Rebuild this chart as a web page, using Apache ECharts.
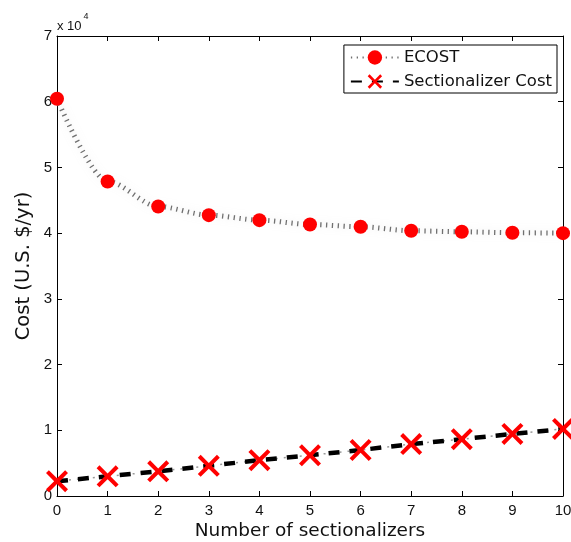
<!DOCTYPE html>
<html>
<head>
<meta charset="utf-8">
<script src="https://cdn.jsdelivr.net/npm/echarts@6/dist/echarts.min.js"></script>
<style>
  html, body { margin: 0; padding: 0; background: #fff; }
  #chart { width: 571px; height: 542px; }
</style>
</head>
<body>
<div id="chart"></div>
<script>
// Number of sectionalizers on the feeder
const sectionalizers = [0, 1, 2, 3, 4, 5, 6, 7, 8, 9, 10];
// Expected cost of energy not supplied (U.S. $/yr)
const ecost = [60450, 47870, 44060, 42740, 41980, 41320, 40970, 40360, 40210, 40060, 40000];
// Annualised sectionalizer cost (U.S. $/yr)
const sectionalizerCost = [2250, 3000, 3750, 4600, 5450, 6200, 7000, 7900, 8650, 9450, 10200];
// Y tick labels are shown in units of 10^4
const yTickLabels = ['0', '1', '2', '3', '4', '5', '6', '7'];
const xTickLabels = ['0', '1', '2', '3', '4', '5', '6', '7', '8', '9', '10'];

const tickFont = 'Liberation Sans, Arial, sans-serif';
const titleFont = 'DejaVu Sans, sans-serif';
const crossPath = 'path://M0,13L13,0L50,37L87,0L100,13L63,50L100,87L87,100L50,63L13,100L0,87L37,50Z';

const pairs = arr => sectionalizers.map((x, i) => [x, arr[i]]);

const chart = echarts.init(document.getElementById('chart'), null, { renderer: 'canvas' });

const tickStyle = { show: true, inside: true, length: 5, lineStyle: { color: '#000', width: 1 } };
const lineStyleAxis = { show: true, onZero: false, lineStyle: { color: '#000', width: 1 } };

chart.setOption({
  animation: false,
  backgroundColor: '#fff',
  grid: { left: 57, right: 8, top: 36, bottom: 46, containLabel: false, outerBoundsMode: 'none' },
  xAxis: [
    {
      type: 'value', min: 0, max: 10, interval: 1, position: 'bottom',
      axisLine: lineStyleAxis, axisTick: tickStyle, splitLine: { show: false },
      axisLabel: {
        color: '#111', fontFamily: tickFont, fontSize: 15, margin: 7,
        formatter: v => xTickLabels[Math.round(v)]
      },
      name: 'Number of sectionalizers', nameLocation: 'middle', nameGap: 26,
      nameMoveOverlap: false,
      nameTextStyle: { color: '#111', fontFamily: titleFont, fontSize: 18.5 }
    },
    {
      type: 'value', min: 0, max: 10, interval: 1, position: 'top',
      axisLine: lineStyleAxis, axisTick: tickStyle, axisLabel: { show: false }, splitLine: { show: false }
    }
  ],
  yAxis: [
    {
      type: 'value', min: 0, max: 70000, interval: 10000, position: 'left',
      axisLine: lineStyleAxis, axisTick: tickStyle, splitLine: { show: false },
      axisLabel: {
        color: '#111', fontFamily: tickFont, fontSize: 15, margin: 5,
        formatter: v => yTickLabels[Math.round(v / 10000)]
      },
      name: 'Cost (U.S. $/yr)', nameLocation: 'middle', nameGap: 23, nameRotate: 90,
      nameMoveOverlap: false,
      nameTextStyle: { color: '#111', fontFamily: titleFont, fontSize: 19.5 }
    },
    {
      type: 'value', min: 0, max: 70000, interval: 10000, position: 'right',
      axisLine: lineStyleAxis, axisTick: tickStyle, axisLabel: { show: false }, splitLine: { show: false }
    }
  ],
  legend: {
    right: 14, top: 45,
    orient: 'vertical',
    backgroundColor: '#fff',
    borderColor: '#000', borderWidth: 1, borderRadius: 0,
    padding: [4, 5, 3, 6],
    itemWidth: 48, itemHeight: 18, itemGap: 7,
    textStyle: { color: '#111', fontFamily: titleFont, fontSize: 16.5 },
    data: ['ECOST', 'Sectionalizer Cost']
  },
  graphic: [
    {
      type: 'text', left: 57, top: 12,
      style: {
        text: '{b|x 10}{s|4}',
        rich: {
          b: { fontFamily: tickFont, fontSize: 13, fill: '#111', padding: [8, 0, 0, 0] },
          s: { fontFamily: tickFont, fontSize: 9, fill: '#111', verticalAlign: 'top', padding: [0, 0, 8, 2] }
        }
      }
    }
  ],
  series: [
    {
      name: 'ECOST', type: 'line', data: pairs(ecost),
      symbol: 'circle', symbolSize: 14,
      smooth: 0.3, smoothMonotone: 'x',
      itemStyle: { color: '#ff0000' },
      lineStyle: { color: '#707070', width: 5, type: [1.3, 4.5], cap: 'butt',
        shadowColor: 'rgba(200,200,200,0.5)', shadowBlur: 6 },
      z: 3
    },
    {
      // thin grey dots between the black dashes of the cost line
      name: '', type: 'line', data: pairs(sectionalizerCost),
      symbol: 'none', silent: true,
      lineStyle: { color: '#9a9a9a', width: 1.5, type: [2, 6], dashOffset: -12 },
      z: 2
    },
    {
      name: 'Sectionalizer Cost', type: 'line', data: pairs(sectionalizerCost),
      symbol: crossPath, symbolSize: 22,
      itemStyle: { color: '#ff0000' },
      lineStyle: { color: '#000', width: 4.5, type: [11, 10], cap: 'butt' },
      z: 4
    }
  ]
});
</script>
</body>
</html>
